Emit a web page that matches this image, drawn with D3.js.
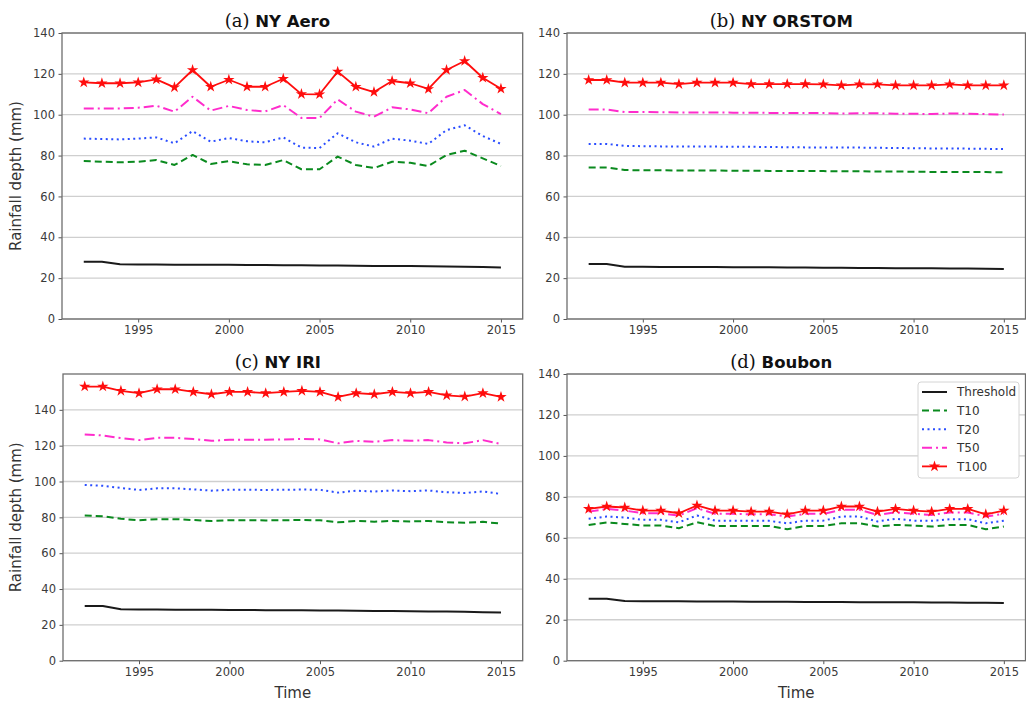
<!DOCTYPE html>
<html>
<head>
<meta charset="utf-8">
<script src="https://cdn.jsdelivr.net/npm/d3@7"></script>
<style>
  html, body { margin: 0; padding: 0; background: #fff; }
  svg { display: block; }
</style>
</head>
<body>
<svg id="fig" width="1026" height="704"></svg>
<script>
// Return-period rainfall depths by year for four rain gauges
const years = [1992,1993,1994,1995,1996,1997,1998,1999,2000,2001,2002,2003,
               2004,2005,2006,2007,2008,2009,2010,2011,2012,2013,2014,2015];
const xTicks = [1995, 2000, 2005, 2010, 2015];
const seriesNames = ["Threshold", "T10", "T20", "T50", "T100"];

// (a) NY Aero
const thrA  = [28.0,28.0,26.8,26.7,26.7,26.6,26.6,26.5,26.5,26.4,26.4,26.3,26.3,26.2,26.2,26.1,26.0,26.0,25.9,25.8,25.7,25.6,25.4,25.2];
const t10A  = [77.3,77.0,76.7,77.0,77.8,75.4,80.3,75.9,77.3,75.7,75.4,77.8,73.3,73.3,79.5,75.4,73.9,77.0,76.5,74.9,80.3,82.4,78.6,74.9];
const t20A  = [88.3,88.1,87.9,88.3,88.9,86.0,92.0,86.8,88.6,87.0,86.5,88.9,83.9,83.7,90.9,86.5,84.4,88.3,87.3,85.7,92.5,94.8,89.6,85.7];
const t50A  = [103.1,103.1,103.1,103.4,104.4,101.5,108.8,102.0,104.3,102.3,101.6,104.7,98.4,98.4,107.5,101.5,99.0,103.6,102.6,100.7,108.8,112.1,105.2,100.3];
const t100A = [115.8,115.4,115.4,115.8,117.3,113.4,121.9,113.7,117.1,113.7,113.7,117.6,110.1,110.0,121.1,113.7,111.1,116.5,115.4,112.6,121.9,126.3,118.1,112.7];

// (b) NY ORSTOM
const thrB  = [26.9,26.9,25.6,25.6,25.5,25.5,25.4,25.4,25.3,25.3,25.3,25.2,25.2,25.1,25.1,25.0,25.0,24.9,24.8,24.8,24.7,24.7,24.6,24.5];
const t10B  = [74.2,74.2,72.9,72.8,72.8,72.7,72.7,72.7,72.6,72.6,72.5,72.5,72.4,72.4,72.3,72.3,72.2,72.2,72.1,72.0,72.0,71.9,71.9,71.8];
const t20B  = [85.7,85.7,84.7,84.6,84.5,84.5,84.4,84.4,84.3,84.3,84.2,84.1,84.0,84.0,83.9,83.9,83.8,83.7,83.6,83.5,83.5,83.4,83.3,83.2];
const t50B  = [102.6,102.6,101.3,101.3,101.2,101.1,101.1,101.1,101.0,101.0,100.9,100.9,100.8,100.8,100.6,100.7,100.7,100.5,100.5,100.3,100.6,100.5,100.3,100.1];
const t100B = [117.0,117.0,115.7,115.7,115.7,115.0,115.7,115.7,115.7,115.0,115.0,115.0,115.0,114.9,114.4,114.9,114.9,114.4,114.4,114.4,114.9,114.4,114.4,114.4];

// (c) NY IRI
const thrC  = [30.5,30.5,28.7,28.6,28.6,28.5,28.5,28.4,28.3,28.3,28.2,28.2,28.1,28.0,28.0,27.9,27.8,27.7,27.6,27.5,27.4,27.3,27.1,26.9];
const t10C  = [81.0,80.6,79.2,78.4,79.0,79.0,78.5,78.0,78.4,78.4,78.3,78.4,78.5,78.4,77.2,78.0,77.6,78.0,77.7,78.0,77.3,77.0,77.5,76.5];
const t20C  = [98.1,97.6,96.4,95.3,96.2,96.2,95.6,94.9,95.4,95.4,95.3,95.4,95.5,95.4,93.8,94.9,94.4,95.0,94.6,95.0,94.0,93.6,94.5,93.0];
const t50C  = [126.3,125.7,124.2,123.1,124.4,124.4,123.7,122.7,123.3,123.3,123.3,123.5,123.7,123.5,121.3,122.7,122.2,123.1,122.7,123.1,121.8,121.3,123.1,120.9];
const t100C = [153.0,153.0,150.6,149.3,151.5,151.5,150.0,148.7,150.0,150.0,149.3,150.0,150.6,150.0,147.2,149.3,148.7,150.0,149.3,150.0,148.1,147.4,149.3,147.2];

// (d) Boubon
const thrD  = [30.3,30.3,29.1,29.0,29.0,29.0,28.9,28.9,28.9,28.8,28.8,28.8,28.7,28.7,28.7,28.6,28.6,28.5,28.5,28.4,28.4,28.3,28.3,28.2];
const t10D  = [66.3,67.5,66.8,66.0,66.0,64.7,67.6,65.8,65.8,65.8,65.8,64.2,65.8,65.8,67.1,67.1,65.5,66.3,66.0,65.5,66.3,66.3,64.2,65.5];
const t20D  = [69.3,70.4,69.9,68.8,68.8,67.6,70.9,68.4,68.4,68.3,68.3,67.1,68.4,68.4,70.4,70.4,68.0,69.3,68.4,68.3,69.1,69.1,67.1,68.3];
const t50D  = [72.8,74.1,73.3,72.0,72.0,70.9,74.5,71.7,71.7,71.5,71.5,70.4,71.7,71.7,73.7,73.7,71.2,72.5,71.7,71.2,72.4,72.4,70.4,71.7];
const t100D = [74.1,75.3,74.8,73.3,73.3,72.0,75.8,73.3,73.3,72.8,72.8,71.5,73.3,73.3,75.3,75.3,72.8,74.1,73.3,72.8,74.1,74.1,71.5,73.3];

const yTicks = [0,20,40,60,80,100,120,140];

// Panel descriptions (layout + which arrays feed each one)
const panels = [
  { tag: "(a)", name: "NY Aero",   x0: 62,  x1: 522.7,  y0: 33,  y1: 319,   ymax: 140, series: [thrA, t10A, t20A, t50A, t100A], ylabel: true,  xlabel: false, legend: false },
  { tag: "(b)", name: "NY ORSTOM", x0: 567, x1: 1025.5, y0: 33,  y1: 319,   ymax: 140, series: [thrB, t10B, t20B, t50B, t100B], ylabel: false, xlabel: false, legend: false },
  { tag: "(c)", name: "NY IRI",    x0: 63,  x1: 522.7,  y0: 374, y1: 660.7, ymax: 160, series: [thrC, t10C, t20C, t50C, t100C], ylabel: true,  xlabel: true,  legend: false },
  { tag: "(d)", name: "Boubon",    x0: 567, x1: 1025.5, y0: 374, y1: 660.7, ymax: 140, series: [thrD, t10D, t20D, t50D, t100D], ylabel: false, xlabel: true,  legend: true }
];

const styles = [
  { color: "#1a1a1a", dash: null,          width: 2.0, star: false },
  { color: "#0a8a1e", dash: "7,4",         width: 2.0, star: false },
  { color: "#2a4dff", dash: "2,3.5",       width: 2.0, star: false },
  { color: "#ff2ccc", dash: "10,4,2,4",    width: 2.0, star: false },
  { color: "#ff0d0d", dash: null,          width: 1.8, star: true }
];

const svg = d3.select("#fig");
const font = "'DejaVu Sans', sans-serif";
const star = d3.symbol().type(d3.symbolStar).size(40);

panels.forEach(p => {
  const x = d3.scaleLinear().domain([1992 - 1.2, 2015 + 1.2]).range([p.x0, p.x1]);
  const y = d3.scaleLinear().domain([0, p.ymax]).range([p.y1, p.y0]);
  const g = svg.append("g");

  // horizontal grid
  g.append("g")
    .selectAll("line").data(yTicks).join("line")
    .attr("x1", p.x0).attr("x2", p.x1)
    .attr("y1", d => y(d)).attr("y2", d => y(d))
    .attr("stroke", "#cfcfcf").attr("stroke-width", 1.3);

  // axes
  const yAxis = d3.axisLeft(y).tickValues(yTicks).tickSize(3.5).tickPadding(3.5).tickFormat(d3.format("d"));
  const xAxis = d3.axisBottom(x).tickValues(xTicks).tickSize(3.5).tickPadding(3.5).tickFormat(d3.format("d"));
  const ya = g.append("g").attr("transform", `translate(${p.x0},0)`).call(yAxis);
  const xa = g.append("g").attr("transform", `translate(0,${p.y1})`).call(xAxis);
  [ya, xa].forEach(a => {
    a.select(".domain").remove();
    a.selectAll(".tick line").attr("stroke", "#555").attr("stroke-width", 1);
    a.selectAll(".tick text").attr("fill", "#3a3a3a").style("font-family", font).style("font-size", "11.5px");
  });

  // series lines
  p.series.forEach((vals, i) => {
    const st = styles[i];
    const data = years.map((yr, k) => [yr, vals[k]]);
    const line = d3.line().x(d => x(d[0])).y(d => y(d[1]));
    g.append("path").datum(data)
      .attr("d", line)
      .attr("fill", "none")
      .attr("stroke", st.color)
      .attr("stroke-width", st.width)
      .attr("stroke-linejoin", "round")
      .attr("stroke-dasharray", st.dash);
    if (st.star) {
      g.append("g").selectAll("path").data(data).join("path")
        .attr("d", star)
        .attr("transform", d => `translate(${x(d[0])},${y(d[1])})`)
        .attr("fill", st.color);
    }
  });

  // frame
  g.append("rect")
    .attr("x", p.x0).attr("y", p.y0)
    .attr("width", p.x1 - p.x0).attr("height", p.y1 - p.y0)
    .attr("fill", "none").attr("stroke", "#6e6e6e").attr("stroke-width", 1.3);

  // title: serif tag + bold sans name
  const t = svg.append("text")
    .attr("x", (p.x0 + p.x1) / 2 - 15).attr("y", p.y0 - 6.5)
    .attr("text-anchor", "middle").attr("fill", "#111");
  t.append("tspan").text(p.tag + " ")
    .style("font-family", "'DejaVu Serif', serif").style("font-size", "18px");
  t.append("tspan").text(p.name)
    .style("font-family", font).style("font-size", "16.5px").style("font-weight", "bold");

  if (p.ylabel) {
    svg.append("text")
      .attr("transform", `translate(21,${(p.y0 + p.y1) / 2}) rotate(-90)`)
      .attr("text-anchor", "middle")
      .attr("fill", "#333")
      .style("font-family", font).style("font-size", "15px")
      .text("Rainfall depth (mm)");
  }
  if (p.xlabel) {
    svg.append("text")
      .attr("x", (p.x0 + p.x1) / 2).attr("y", 698)
      .attr("text-anchor", "middle")
      .attr("fill", "#333")
      .style("font-family", font).style("font-size", "15px")
      .text("Time");
  }

  if (p.legend) {
    const lx = 918, ly = 382, lw = 101, lh = 96;
    const lg = svg.append("g");
    lg.append("rect").attr("x", lx).attr("y", ly).attr("width", lw).attr("height", lh)
      .attr("rx", 3).attr("fill", "#fff").attr("stroke", "#d4d4d4").attr("stroke-width", 1);
    seriesNames.forEach((nm, i) => {
      const st = styles[i];
      const cy = ly + 10 + i * 18.6;
      lg.append("line").attr("x1", lx + 4).attr("x2", lx + 29).attr("y1", cy).attr("y2", cy)
        .attr("stroke", st.color).attr("stroke-width", st.width).attr("stroke-dasharray", st.dash);
      if (st.star) {
        lg.append("path").attr("d", star).attr("transform", `translate(${lx + 16.5},${cy})`).attr("fill", st.color);
      }
      lg.append("text").attr("x", lx + 39).attr("y", cy + 4.3)
        .attr("fill", "#333")
        .style("font-family", font).style("font-size", "12px")
        .text(nm);
    });
  }
});
</script>
</body>
</html>
